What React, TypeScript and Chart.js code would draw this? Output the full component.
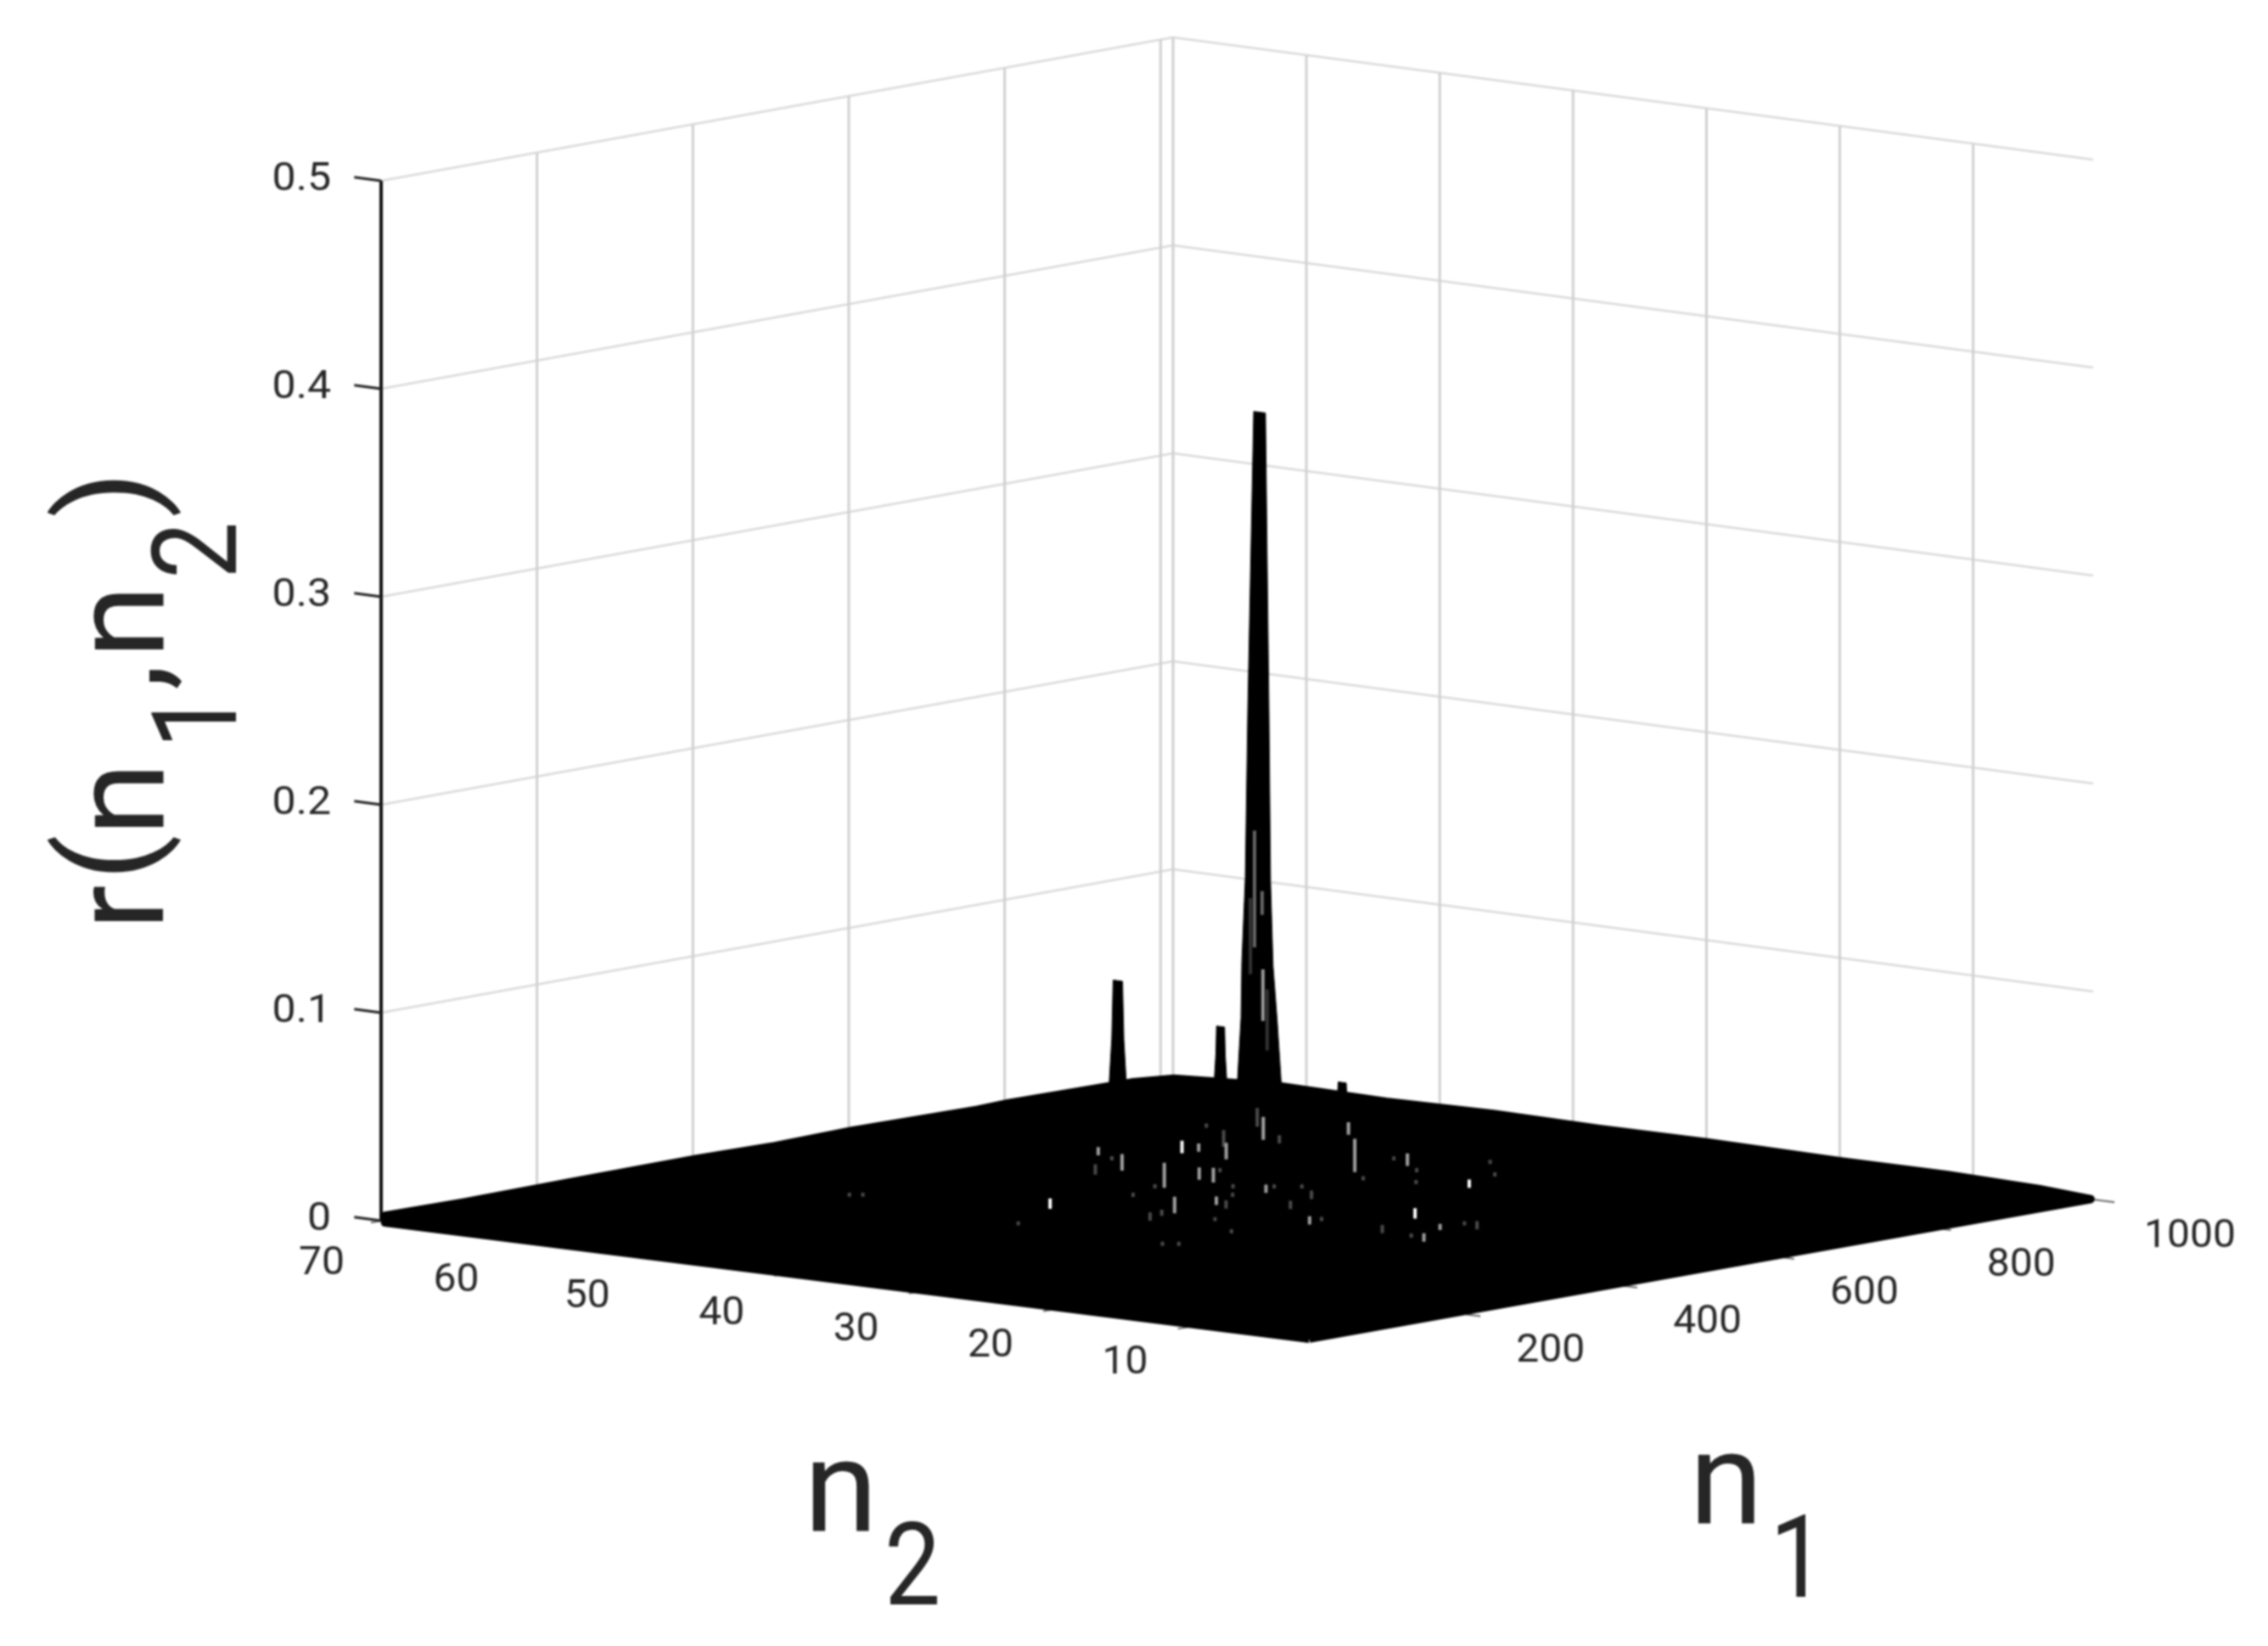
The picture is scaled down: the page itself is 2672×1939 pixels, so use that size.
import React, { useEffect, useRef } from "react";
import { Chart, registerables } from "chart.js";

Chart.register(...registerables);

// ---- axis ticks (values as printed) ----
const n1Ticks = [200, 400, 600, 800, 1000];
const n2Ticks = [10, 20, 30, 40, 50, 60, 70];
const rTicks = [0, 0.1, 0.2, 0.3, 0.4, 0.5];
const rTickLabels = ["0", "0.1", "0.2", "0.3", "0.4", "0.5"];

// ---- data range ----
const n1Max = 1016;
const n2Min = 1;
const n2Max = 70;
const rMax = 0.5;

// ---- rim of the surface: n1, n2 and the small r along it ----
const floorN1 = [18, 1016, 1016, 1016, 1016, 1016, 1016, 1016, 1016, 1016, 1000, 960, 800, 760, 600, 500, 400, 250, 100, 0, 0];
const floorN2 = [2, 1.2, 5, 12, 20, 30, 38, 46, 54, 62, 69, 69.7, 69.7, 69.7, 69.7, 69.7, 69.7, 69.7, 69.7, 69.7, 69.7];
const floorR = [0, 0, 0.0015, 0.0025, 0.0022, 0.0028, 0.0024, 0.0028, 0.0018, 0.0024, 0.0012, 0.0016, 0.0024, 0.002, 0.0028, 0.0022, 0.0028, 0.0026, 0.0022, 0.0026, -0.0006];

// ---- the peaks, outline of each one read across n2 ----
const mainPeakN1 = 925;
const mainPeakN2 = [59.97, 59.59, 59.53, 59.27, 59.08, 58.64, 57.76, 57.5, 57.38, 57.19, 56.87, 56.43];
const mainPeakR = [0, 0.0435, 0.0704, 0.111, 0.193, 0.336, 0.336, 0.193, 0.111, 0.0704, 0.0435, 0];

const peak2N1 = 760;
const peak2N2 = [60.05, 59.65, 59.55, 58.85, 58.75, 58.35];
const peak2R = [0, 0.045, 0.073, 0.073, 0.045, 0];

const peak3N1 = 880;
const peak3N2 = [59.13, 58.85, 58.8, 58.2, 58.15, 57.87];
const peak3R = [0, 0.03, 0.0434, 0.0434, 0.03, 0];

const peak4N1 = 930;
const peak4N2 = [52.75, 52.6, 52.0, 51.85];
const peak4R = [0, 0.0184, 0.0184, 0];

// ---- slits seen on the main peak: n2, lower r, upper r ----
const slitMidN2 = [58.58, 58.01];
const slitMidLow = [0.0784, 0.0945];
const slitMidHigh = [0.1345, 0.1059];
const slitDarkN2 = [58.89, 57.63];
const slitDarkLow = [0.0651, 0.0296];
const slitDarkHigh = [0.1018, 0.059];
const slitLightN2 = [57.95];
const slitLightLow = [0.0435];
const slitLightHigh = [0.0683];

// ---- small gaps in the mesh: n1, n2, visible length in r ----
const gapWhiteN1 = [736, 741, 432, 590];
const gapWhiteN2 = [53.0, 31.8, 45.2, 27.1];
const gapWhiteLen = [0.006, 0.004, 0.005, 0.005];

const gapGreyN1 = [673, 640, 742, 743, 856, 902, 795, 610, 636, 637, 806, 610, 534, 494, 504, 548, 496];
const gapGreyN2 = [55.6, 51.9, 52.1, 50.1, 53.9, 50.2, 43.5, 47.0, 45.9, 44.9, 40.2, 39.4, 38.7, 39.5, 30.0, 22.8, 21.0];
const gapGreyLen = [0.004, 0.008, 0.004, 0.008, 0.011, 0.006, 0.016, 0.012, 0.006, 0.007, 0.006, 0.004, 0.004, 0.008, 0.004, 0.003, 0.004];

const gapDarkN1 = [597, 651, 793, 836, 898, 820, 661, 804, 768, 719, 706, 842, 793, 624, 639, 610, 557, 602, 567, 524, 455, 433, 513, 560, 334, 516, 458, 417, 508, 576, 575, 497, 328, 337, 360, 367];
const gapDarkN2 = [51.4, 53.3, 53.2, 57.0, 56.8, 50.6, 45.8, 41.1, 37.3, 34.5, 37.7, 36.1, 32.9, 39.6, 38.4, 36.0, 34.5, 41.4, 39.4, 37.4, 38.2, 37.8, 43.7, 44.8, 41.9, 29.8, 34.4, 30.8, 24.8, 22.6, 21.6, 22.0, 30.8, 30.1, 56.0, 55.4];
const gapDarkLen = [0.005, 0.002, 0.008, 0.002, 0.009, 0.004, 0.002, 0.002, 0.002, 0.002, 0.002, 0.002, 0.002, 0.002, 0.002, 0.004, 0.004, 0.002, 0.002, 0.004, 0.003, 0.004, 0.002, 0.002, 0.002, 0.002, 0.002, 0.002, 0.004, 0.002, 0.004, 0.002, 0.002, 0.002, 0.002, 0.002];

// ---- view of the 3-D box ----
const FRONT = [1542, 1582];
const RIGHT = [2466, 1413];
const LEFT = [449, 1438];
const BACK = [1382, 1269];
const Z_SPAN = 2450;

type P = { x: number; y: number };
const GAP: P = { x: NaN, y: NaN };

function project(n1: number, n2: number, r: number): P {
  const u = n1 / n1Max;
  const m = (n2 - n2Min) / (n2Max - n2Min);
  const blend = (k: number) =>
    (1 - u) * (1 - m) * FRONT[k] + u * (1 - m) * RIGHT[k] + (1 - u) * m * LEFT[k] + u * m * BACK[k];
  return { x: blend(0), y: blend(1) - r * Z_SPAN };
}

function outline(n1: number, n2s: number[], rs: number[]): P[] {
  const pts = n2s.map((n2, i) => project(n1, n2, rs[i]));
  return [...pts, pts[0]];
}

function gapMarks(n1s: number[], n2s: number[], lens: number[]): P[] {
  const out: P[] = [];
  n1s.forEach((n1, i) => {
    out.push(project(n1, n2s[i], lens[i] / 2), project(n1, n2s[i], -lens[i] / 2), GAP);
  });
  return out;
}

function slitMarks(n2s: number[], lows: number[], highs: number[]): P[] {
  const out: P[] = [];
  n2s.forEach((n2, i) => {
    out.push(project(mainPeakN1, n2, lows[i]), project(mainPeakN1, n2, highs[i]), GAP);
  });
  return out;
}

const FRONT_STRETCH = n1Max / 1000;

function buildDatasets() {
  const hLines: P[] = [];
  rTicks.slice(1).forEach((r) => {
    hLines.push(project(0, n2Max, r), project(n1Max, n2Max, r), project(n1Max, n2Min, r), GAP);
  });
  const vLines: P[] = [];
  n1Ticks.forEach((n) => vLines.push(project(n, n2Max, 0), project(n, n2Max, rMax), GAP));
  n2Ticks.forEach((n) => vLines.push(project(n1Max, n, 0), project(n1Max, n, rMax), GAP));

  const rAxisTicks: P[] = [];
  rTicks.forEach((r) => rAxisTicks.push(project(0, n2Max, r), project(0, n2Max + 2, r), GAP));
  const floorTicks: P[] = [];
  n2Ticks.forEach((n) => floorTicks.push(project(0, n, 0), project(-13, n, 0), GAP));
  n1Ticks.forEach((n) =>
    floorTicks.push(project(n * FRONT_STRETCH, n2Min, 0), project(n * FRONT_STRETCH, n2Min - (n === 1000 ? 1.6 : 1.1), 0), GAP)
  );

  const floor = floorN1.map((n1, i) => project(n1, floorN2[i], floorR[i]));

  const line = (data: P[], color: string, width: number, order: number) => ({
    data,
    borderColor: color,
    backgroundColor: color,
    borderWidth: width,
    order,
    showLine: true,
    pointRadius: 0,
    fill: false,
    spanGaps: false,
    clip: false,
  });
  const solid = (data: P[], order: number, width = 1) => ({
    ...line(data, "#000000", width, order),
    fill: "shape",
    borderJoinStyle: "round",
  });

  return [
    line(hLines, "#d9d9d9", 2.5, 20),
    line(vLines, "#d0d0d0", 3, 19),
    line([project(0, n2Max, 0), project(0, n2Max, rMax)], "#111111", 4, 18),
    line(rAxisTicks, "#222222", 3, 17),
    line(floorTicks, "#666666", 2, 17),
    solid([...floor, floor[0]], 10, 10),
    solid(outline(peak2N1, peak2N2, peak2R), 9),
    solid(outline(peak3N1, peak3N2, peak3R), 9),
    solid(outline(peak4N1, peak4N2, peak4R), 9),
    solid(outline(mainPeakN1, mainPeakN2, mainPeakR), 8),
    line(slitMarks(slitMidN2, slitMidLow, slitMidHigh), "#666666", 4, 5),
    line(slitMarks(slitDarkN2, slitDarkLow, slitDarkHigh), "#333333", 4, 5),
    line(slitMarks(slitLightN2, slitLightLow, slitLightHigh), "#999999", 4, 5),
    line(gapMarks(gapDarkN1, gapDarkN2, gapDarkLen), "#4a4a4a", 4, 4),
    line(gapMarks(gapGreyN1, gapGreyN2, gapGreyLen), "#a0a0a0", 4, 3),
    line(gapMarks(gapWhiteN1, gapWhiteN2, gapWhiteLen), "#ffffff", 4, 2),
  ];
}

const FONT = "Roboto, 'Liberation Sans', sans-serif";
const INK = "#262626";

function putText(
  ctx: CanvasRenderingContext2D,
  text: string,
  x: number,
  y: number,
  sizeAlong: number,
  sizeAcross: number,
  rotate = false,
  align: CanvasTextAlign = "left",
  baseline: CanvasTextBaseline = "alphabetic"
) {
  ctx.save();
  ctx.translate(x, y);
  if (rotate) ctx.rotate(-Math.PI / 2);
  ctx.scale(sizeAlong / 100, sizeAcross / 100);
  ctx.font = `100px ${FONT}`;
  ctx.textAlign = align;
  ctx.textBaseline = baseline;
  ctx.fillStyle = INK;
  ctx.fillText(text, 0, 0);
  ctx.restore();
}

const textPlugin = {
  id: "boxText",
  afterDraw(chart: Chart) {
    const ctx = chart.ctx;
    // tick labels
    rTicks.forEach((r, i) => {
      const p = project(0, n2Max, r);
      putText(ctx, rTickLabels[i], 390, p.y - 1, 50, 47, false, "right", "middle");
    });
    n2Ticks.forEach((n) => {
      const p = project(0, n, 0);
      const dx = n >= 60 ? -70 : -74;
      putText(ctx, String(n), p.x + dx, p.y + 43 + (n - 10) * 0.14, 48, 47, false, "center", "middle");
    });
    n1Ticks.forEach((n) => {
      const p = project(n * FRONT_STRETCH, n2Min, 0);
      putText(ctx, String(n), p.x + (n === 1000 ? 114 : 100), p.y + 44, 48, 47, false, "center", "middle");
    });
    // axis titles
    putText(ctx, "n", 947, 1803, 158, 152);
    putText(ctx, "2", 1042, 1890, 118, 136);
    putText(ctx, "n", 1990, 1794, 158, 152);
    putText(ctx, "1", 2085, 1881, 118, 136);
    // rotated title: r(n1,n2)
    const bx = 192;
    const by = 1086;
    const along = 158;
    const across = 152;
    putText(ctx, "r", bx, by + 10, along, across, true);
    putText(ctx, "(", bx - 14, by - 48, 160, 152, true);
    putText(ctx, "n", bx, by - 101, along, across, true);
    putText(ctx, "1", bx + 86, by - 204, 120, 140, true);
    putText(ctx, ",", bx, by - 273, along, across, true);
    putText(ctx, "n", bx, by - 310, along, across, true);
    putText(ctx, "2", bx + 86, by - 404, 120, 140, true);
    putText(ctx, ")", bx - 14, by - 476, 160, 152, true);
  },
};

export default function App() {
  const ref = useRef<HTMLCanvasElement | null>(null);
  useEffect(() => {
    document.body.style.margin = "0";
    document.body.style.background = "#ffffff";
    document.documentElement.style.overflow = "hidden";
    if (!ref.current) return;
    const chart = new Chart(ref.current, {
      type: "scatter",
      data: { datasets: buildDatasets() as any },
      options: {
        animation: false,
        responsive: false,
        devicePixelRatio: 1,
        layout: { padding: 0 },
        events: [],
        plugins: { legend: { display: false }, tooltip: { enabled: false } },
        scales: {
          x: { type: "linear", min: 0, max: 2672, display: false },
          y: { type: "linear", min: 0, max: 1939, reverse: true, display: false },
        },
      },
      plugins: [textPlugin as any],
    });
    return () => chart.destroy();
  }, []);
  return (
    <canvas
      ref={ref}
      width={2672}
      height={1939}
      style={{ display: "block", width: 2672, height: 1939, filter: "blur(1px)" }}
    />
  );
}
